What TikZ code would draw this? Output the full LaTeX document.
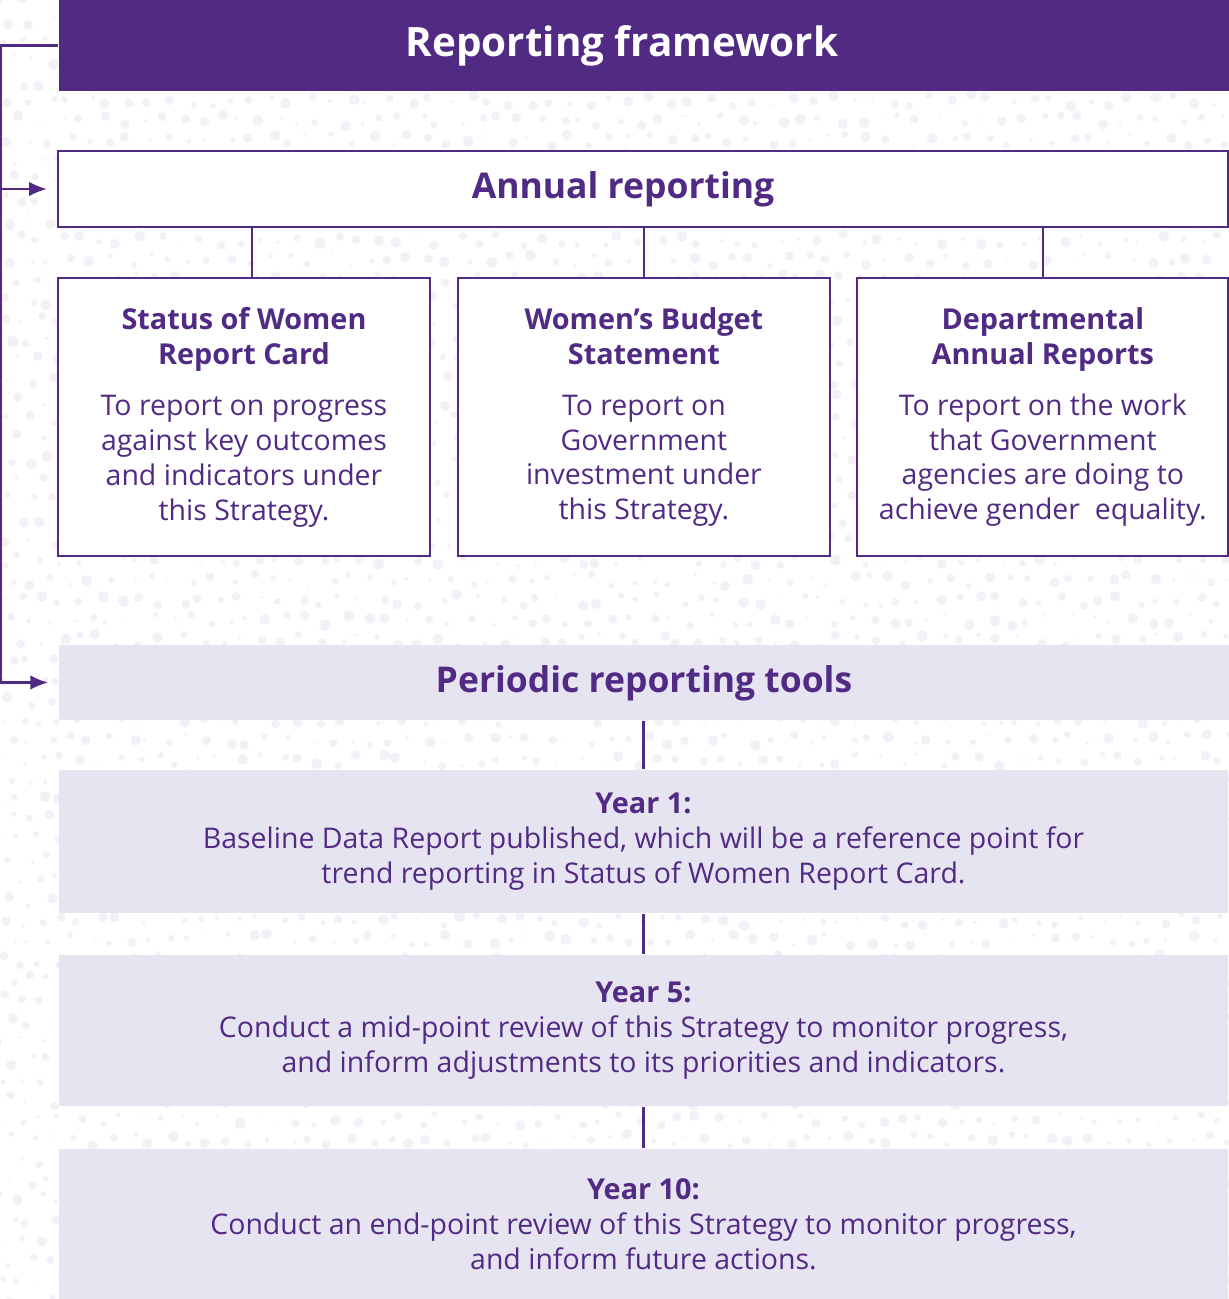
\documentclass[tikz,border=0pt]{standalone}
\usepackage{fontspec}
\setmainfont{Open Sans}
\usetikzlibrary{arrows.meta}
\definecolor{plum}{HTML}{512A84}
\definecolor{lilac}{HTML}{E7E4F2}
\definecolor{speck}{HTML}{F2F1F7}
\tikzset{every node/.style={align=center}, >={Latex[length=10pt,width=8.2pt]},
  font=\fontsize{16.2}{19.9}\selectfont,
  outline/.style={draw=plum, line width=1.5pt, fill=white, inner sep=0pt},
  band/.style={fill=lilac, inner sep=0pt, minimum width=23.4cm},
  bigtitle/.style={font=\fontsize{23}{27}\selectfont\bfseries},
  midtitle/.style={font=\fontsize{20.2}{24}\selectfont\bfseries}}
\newcommand\boxhead[1]{{\fontsize{16.4}{19.9}\selectfont\bfseries #1}}

\begin{document}
\begin{tikzpicture}[x=0.02cm, y=-0.02cm, color=plum, line width=1.2pt]
            \useasboundingbox (0,0) rectangle (1229,1299);
            % faint speckled backdrop
            \pgfmathsetseed{7}
            \foreach \i in {0,...,62}
              \foreach \j in {0,...,66}
                {\pgfmathsetmacro{\rad}{1.2+4.5*rnd}
                 \fill[speck] ({\i*20+10*mod(\j,2)+6*rand},{\j*20+6*rand}) circle (\rad);}
            \node [fill=plum, inner sep=0pt, minimum width=23.4cm, minimum height=1.82cm] (head) at (644,45.5) {};
            \node [bigtitle, text=white] (headtxt) at (622,46) {Reporting framework};
            \node [outline, minimum width=23.4cm, minimum height=1.52cm] (annual) at (643,189) {};
            \node [midtitle] (annualtxt) at (623,189) {Annual reporting};
            \node [outline, minimum width=7.44cm, minimum height=5.56cm] (card) at (244,417)
                {\boxhead{Status of Women}\\\boxhead{Report Card}\\[0.32cm]To report on progress\\against key outcomes\\and indicators under\\this Strategy.};
            \node [outline, minimum width=7.44cm, minimum height=5.56cm, right of=card, node distance=8cm] (budget)
                {\boxhead{Women’s Budget}\\\boxhead{Statement}\\[0.32cm]To report on\\Government\\investment under\\this Strategy.};
            \node [outline, minimum width=7.44cm, minimum height=5.56cm, right of=budget, node distance=7.98cm] (depts)
                {\boxhead{Departmental}\\\boxhead{Annual Reports}\\[0.32cm]To report on the work\\that Government\\agencies are doing to\\achieve gender\ \ equality.};
            \node [band, minimum height=1.5cm] (periodic) at (644,682.5) {};
            \node [midtitle] (periodictxt) at (644,683) {Periodic reporting tools};
            \node [band, minimum height=2.86cm] (year1) at (643.5,841.5)
                {\boxhead{Year 1:}\\Baseline Data Report published, which will be a reference point for\\trend reporting in Status of Women Report Card.};
            \node [band, minimum height=3.02cm] (year5) at (643.5,1030.5)
                {\boxhead{Year 5:}\\Conduct a mid-point review of this Strategy to monitor progress,\\and inform adjustments to its priorities and indicators.};
            \node [band, minimum height=3cm] (year10) at (643.5,1224)
                {\boxhead{Year 10:}\\Conduct an end-point review of this Strategy to monitor progress,\\and inform future actions.};
            \path[draw] ([xshift=0.16cm]card.north) -- ([xshift=0.16cm]card.north |- annual.south)
                (budget.north) -- (budget.north |- annual.south)
                (depts.north) -- (depts.north |- annual.south)
                (year1.north) -- (year1.north |- periodic.south)
                (year5.north) -- (year1.south)
                (year10.north) -- (year5.south);
            \draw[->] (head.west) -- ++(-57,0) |- ([xshift=-0.2cm]annual.west);
            \draw[->] (head.west) -- ++(-57,0) |- ([xshift=-0.2cm]periodic.west);
        \end{tikzpicture}
\end{document}
